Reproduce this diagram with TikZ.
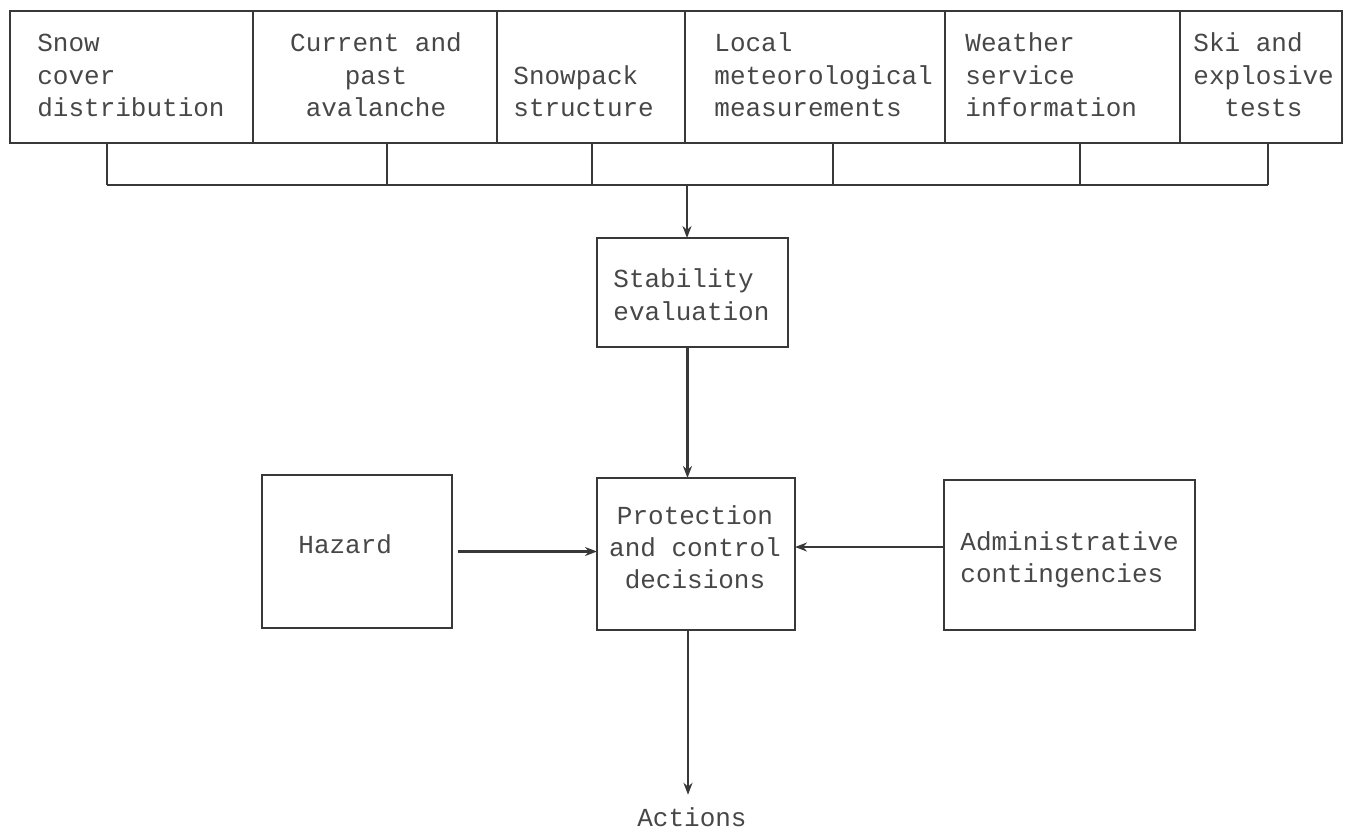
\documentclass[tikz,border=0pt]{standalone}
\usepackage{fontspec}
\setmonofont{Liberation Mono}
\usetikzlibrary{arrows.meta,calc}
\begin{document}
\begin{tikzpicture}[x=0.5pt,y=-0.5pt,
  ln/.style={draw=black!78,line width=1.4pt},
  box/.style={ln,rectangle,inner sep=0pt,outer sep=0pt,anchor=north west},
  txt/.style={font=\ttfamily\fontsize{13}{15}\selectfont,text=black!72,inner sep=0pt,anchor=base west},
  ctxt/.style={txt,anchor=base},
  arr/.style={ln,-{Stealth[length=6pt,width=4.5pt]}}
]
\useasboundingbox (0,0) rectangle (1345,831);
% top row boxes
\node[box,minimum width=121.5pt,minimum height=66pt] (b1) at (10,11) {};
\node[box,minimum width=122pt,minimum height=66pt] (b2) at (253,11) {};
\node[box,minimum width=94pt,minimum height=66pt] (b3) at (497,11) {};
\node[box,minimum width=130pt,minimum height=66pt] (b4) at (685,11) {};
\node[box,minimum width=117.5pt,minimum height=66pt] (b5) at (945,11) {};
\node[box,minimum width=81pt,minimum height=66pt] (b6) at (1180,11) {};
% top row texts
\node[txt] (t1a) at (37,51) {Snow};
\node[txt] (t1b) at (37,84) {cover};
\node[txt] (t1c) at (37,116) {distribution};
\node[ctxt] (t2a) at (376,51) {Current and};
\node[ctxt] (t2b) at (376,84) {past};
\node[ctxt] (t2c) at (376,116) {avalanche};
\node[txt] (t3b) at (513,84) {Snowpack};
\node[txt] (t3c) at (513,116) {structure};
\node[txt] (t4a) at (714,51) {Local};
\node[txt] (t4b) at (714,84) {meteorological};
\node[txt] (t4c) at (714,116) {measurements};
\node[txt] (t5a) at (965,51) {Weather};
\node[txt] (t5b) at (965,84) {service};
\node[txt] (t5c) at (965,116) {information};
\node[txt] (t6a) at (1193,51) {Ski and};
\node[txt] (t6b) at (1193,84) {explosive};
\node[txt] (t6c) at (1224,116) {tests};
% middle boxes
\node[box,minimum width=95.5pt,minimum height=54.5pt] (stab) at (597,238) {};
\node[txt] (sta) at (613,287) {Stability};
\node[txt] (stb) at (613,320) {evaluation};
\node[box,minimum width=99pt,minimum height=76pt] (prot) at (597,478) {};
\node[ctxt] (pa) at (695,524) {Protection};
\node[ctxt] (pb) at (695,556) {and control};
\node[ctxt] (pc) at (695,588) {decisions};
\node[box,minimum width=95pt,minimum height=76.5pt] (haz) at (262,475) {};
\node[txt] (hz) at (298,553) {Hazard};
\node[box,minimum width=125.5pt,minimum height=75pt] (adm) at (944,480) {};
\node[txt] (ada) at (960,550) {Administrative};
\node[txt] (adb) at (960,582) {contingencies};
\node[ctxt] (act) at (692,826) {Actions};
% bus
\coordinate (s1) at (107,185);
\coordinate (s2) at (387,185);
\coordinate (s3) at (592,185);
\coordinate (s4) at (833,185);
\coordinate (s5) at (1080,185);
\coordinate (s6) at (1268,185);
\draw[ln] (s1 |- b1.south) -- (s1);
\draw[ln] (s2 |- b2.south) -- (s2);
\draw[ln] (s3 |- b3.south) -- (s3);
\draw[ln] (s4 |- b4.south) -- (s4);
\draw[ln] (s5 |- b5.south) -- (s5);
\draw[ln] (s6 |- b6.south) -- (s6);
\draw[ln] (s1) -- (s6);
\coordinate (j) at (687,185);
\draw[arr] (j) -- (j |- stab.north);
\draw[arr] ([xshift=-2.5pt]stab.south) -- ([xshift=-2.5pt]stab.south |- prot.north);
\draw[arr] ([xshift=3pt]haz.east) -- (haz.east -| prot.west);
\draw[arr] ([yshift=4pt]adm.west) -- ([yshift=4pt]adm.west -| prot.east);
\draw[arr] ([xshift=-4pt]prot.south) -- ([xshift=-4pt,yshift=6pt]prot.south |- act.north);
\end{tikzpicture}
\end{document}
